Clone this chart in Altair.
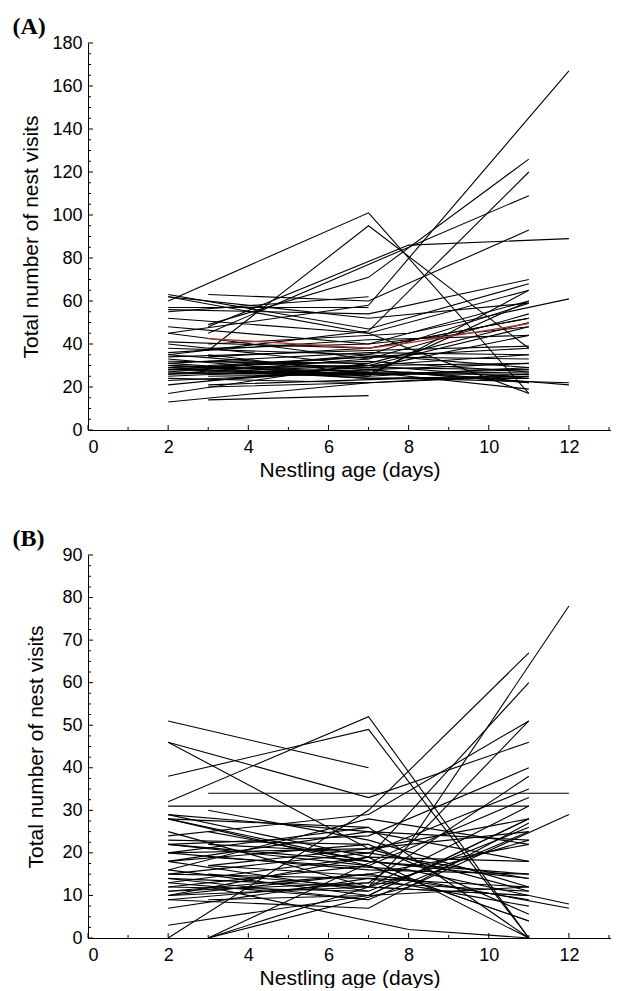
import altair as alt
import pandas as pd

# ---------------- Panel A: total nest visits ----------------
A_AGE1 = [2,3,3,3,2,3,3,2,2,2,2,2,2,2,2,2,2,2,2,2,2,2,2,2,2,2,2,2,2,2,2,2,2,2,2,2,2,3,3,3,3,3,3,3,3,3,3,3,3,2,2,2,2,2,2,3,3,2,2]
A_V1   = [60,37,45,49,45,63,48,35,63,62,56,52,48,45,41,40,36,35,33,31,30,29,29,28,27,26,24,23,21,17,13,34,32,30,28,27,26,14,20,23,25,27,30,32,34,38,21,26,40,38,55,57,62,30,25,29,35,28,31]
A_AGE2 = [7,7,7,7,7,7,8,7,7,7,7,7,7,7,7,7,7,7,7,7,7,7,7,7,7,7,7,7,7,7,7,7,7,7,7,7,7,7,7,7,7,7,7,7,7,7,8,8,8,7,7,7,7,7,7,7,7,7,7]
A_V2   = [101,95,77,71,58,60,86,46,47,52,54,45,40,33,38,30,42,28,25,36,26,32,24,30,35,28,22,27,30,31,22,37,31,27,34,25,33,16,22,28,26,30,34,29,38,40,24,27,45,35,62,57,45,24,29,30,26,26,25]
A_AGE3 = [11,11,11,11,12,11,12,11,11,11,11,11,11,11,11,11,11,11,11,11,11,11,11,11,11,11,11,None,None,None,None,11,11,11,11,None,None,None,11,11,11,11,11,11,11,11,12,12,12,11,None,None,11,11,11,11,11,11,11]
A_V3   = [17,38,109,126,167,93,89,120,68,59,70,65,60,54,52,48,44,31,29,35,28,27,25,24,59,22,26,None,None,None,None,39,50,19,33,None,None,None,25,22,27,31,38,44,52,48,22,21,61,29,None,None,17,24,28,35,26,60,65]

A_MEAN_AGE = [3, 7, 8, 11]
A_MEAN_V   = [42.5, 38, 40.5, 49.5]

# ---------------- Panel B: total nest visits ----------------
B_AGE1 = [2,2,2,2,2,3,2,2,3,2,2,2,2,2,2,2,2,2,2,2,2,2,2,2,2,2,2,2,2,2,2,2,2,2,2,3,3,3,3,3,3,3,3,3,3,3,2,2,2,2,2,2,2,2,2,2]
B_V1   = [51,38,32,46,46,34,31,0,0,29,28,28,25,24,23,22,22,20,20,18,18,16,15,15,14,13,12,11,11,10,10,9,9,7,3,12,30,25,22,17,15,9,0,0,19,17,22,20,18,14,12,29,16,13,10,28]
B_AGE2 = [7,7,7,7,7,8,7,7,8,7,7,7,7,7,7,7,7,7,7,7,7,7,7,7,7,7,7,7,7,7,7,7,7,7,7,8,7,7,7,7,7,7,7,8,8,8,7,7,7,7,7,7,7,7,7,7]
B_V2   = [40,49,52,33,21,34,31,30,22,19,18,26,12,29,22,24,17,21,16,11,25,28,14,20,12,9,17,13,15,12,19,7,13,14,10,2,23,18,20,21,12,10,12,12,16,14,18,26,22,9,11,25,10,19,15,17]
B_AGE3 = [None,11,11,11,11,12,11,11,12,11,11,11,11,11,11,11,11,11,11,11,11,11,11,11,11,11,11,11,11,11,11,11,11,11,11,11,11,11,11,11,11,11,11,12,12,12,None,None,None,None,None,11,11,11,11,11]
B_V3   = [None,0,0,46,11,34,31,67,78,60,14,0,51,51,5.6,40,33,28,15,26,18,22,12,35,10,25,4,38,9,23,0,27,11,7.5,28,0,12,15,14,25,10,28,31,29,8,7,None,None,None,None,None,23,12,18,22,4]

X_LABELS = [0, 2, 4, 6, 8, 10, 12]
X_MINOR = [1, 3, 5, 7, 9, 11, 13]
A_Y_LABELS = [0, 20, 40, 60, 80, 100, 120, 140, 160, 180]
B_Y_LABELS = [0, 10, 20, 30, 40, 50, 60, 70, 80, 90]

FONT = "Liberation Sans"
W = 523
X_MAX = 13.05
X_TITLE = "Nestling age (days)"
Y_TITLE = "Total number of nest visits"


def long_df(a1, v1, a2, v2, a3, v3):
    rows = []
    for i in range(len(v1)):
        pts = [(a1[i], v1[i]), (a2[i], v2[i])]
        if v3[i] is not None:
            pts.append((a3[i], v3[i]))
        for a, v in pts:
            rows.append({"nest": i, "age": a, "visits": v})
    return pd.DataFrame(rows)


def panel(df, ymax, ylabels, yminor_step, height, tag, ytitle_pad, mean=None):
    xs = alt.Scale(domain=[0, X_MAX], nice=False, zero=False)
    ys = alt.Scale(domain=[0, ymax], nice=False)
    xax = alt.Axis(values=X_LABELS, grid=False, ticks=False, tickSize=0,
                   labelPadding=8, titlePadding=3, domainColor="black",
                   labelFont=FONT, labelFontSize=18, labelColor="black",
                   titleFont=FONT, titleFontSize=21, titleFontWeight="normal",
                   titleColor="black")
    yax = alt.Axis(values=ylabels, grid=False, ticks=False, tickSize=0,
                   labelPadding=6, titlePadding=ytitle_pad, domainColor="black",
                   labelFont=FONT, labelFontSize=18, labelColor="black",
                   titleFont=FONT, titleFontSize=21, titleFontWeight="normal",
                   titleColor="black")

    def X(field):
        return alt.X(field, type="quantitative", scale=xs, title=X_TITLE, axis=xax)

    def Y(field):
        return alt.Y(field, type="quantitative", scale=ys, title=Y_TITLE, axis=yax)

    lines = alt.Chart(df).mark_line(color="black", strokeWidth=1.1).encode(
        x=X("age"), y=Y("visits"), detail="nest:N", order="age:Q")
    layers = [lines]
    if mean is not None:
        layers.append(alt.Chart(mean).mark_line(color="#b03030", strokeWidth=1.4).encode(
            x=X("age"), y=Y("visits")))
    yminor = [v for v in [k * yminor_step for k in range(int(ymax / yminor_step) + 1)]
              if v not in ylabels]
    ymaj_df = pd.DataFrame({"visits": ylabels})
    ymin_df = pd.DataFrame({"visits": yminor})
    xmaj_df = pd.DataFrame({"age": X_LABELS})
    xmin_df = pd.DataFrame({"age": X_MINOR})
    layers.append(alt.Chart(ymaj_df).mark_rule(color="black", strokeWidth=1).encode(
        y=Y("visits"), x=alt.value(0), x2=alt.value(5)))
    layers.append(alt.Chart(ymin_df).mark_rule(color="black", strokeWidth=1).encode(
        y=Y("visits"), x=alt.value(0), x2=alt.value(3)))
    layers.append(alt.Chart(xmaj_df).mark_rule(color="black", strokeWidth=1).encode(
        x=X("age"), y=alt.value(height), y2=alt.value(height - 5)))
    layers.append(alt.Chart(xmin_df).mark_rule(color="black", strokeWidth=1).encode(
        x=X("age"), y=alt.value(height), y2=alt.value(height - 3)))
    layers.append(alt.Chart(pd.DataFrame({"t": [tag]})).mark_text(
        font="Liberation Serif", fontSize=24, fontWeight="bold", align="left",
        baseline="middle", color="black").encode(
        text="t:N", x=alt.value(-75.5), y=alt.value(-16)))
    return alt.layer(*layers).properties(width=W, height=height)


dfA = long_df(A_AGE1, A_V1, A_AGE2, A_V2, A_AGE3, A_V3)
dfB = long_df(B_AGE1, B_V1, B_AGE2, B_V2, B_AGE3, B_V3)
meanA = pd.DataFrame({"age": A_MEAN_AGE, "visits": A_MEAN_V})

chartA = panel(dfA, 180, A_Y_LABELS, 5, 387, "(A)", 10, meanA)
chartB = panel(dfB, 90, B_Y_LABELS, 2.5, 383, "(B)", 15)

chart = alt.vconcat(chartA, chartB, spacing=47).properties(
    padding={"left": 4, "top": 7, "right": 0, "bottom": 0},
    background="white",
).configure_view(stroke=None)

chart.save("out.html", embed_options={"renderer": "svg", "actions": False})
